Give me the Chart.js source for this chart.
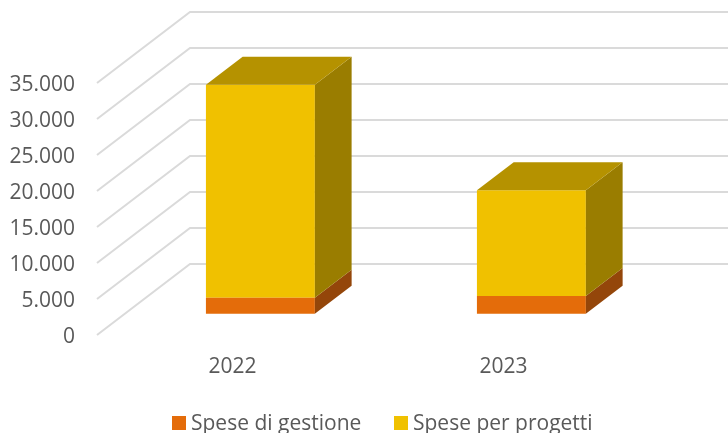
<!DOCTYPE html>
<html>
<head>
<meta charset="utf-8">
<style>
  html, body { margin: 0; padding: 0; background: #fff; }
  canvas { display: block; }
</style>
<script src="https://cdn.jsdelivr.net/npm/chart.js@4"></script>
</head>
<body>
<canvas id="speseChart" width="728" height="433"></canvas>
<script>
const years = ['2022', '2023'];
const speseGestione = [2200, 2450];
const speseProgetti = [29600, 14700];

const FONT = '"Open Sans", sans-serif';
const TEXT_COLOR = '#595959';

// floor depth of the 3D box, and where the bars sit inside it
const DEPTH_X = 93, DEPTH_Y = -71;
const BAR_NEAR = 0.3, BAR_FAR = 0.695;

const fmtThousands = v => String(v).replace(/\B(?=(\d{3})+$)/g, '.');

const depthGrid = {
    id: 'depthGrid',
    beforeDatasetsDraw(chart) {
        const { ctx, chartArea, scales: { y } } = chart;
        ctx.save();
        ctx.strokeStyle = '#dadada';
        ctx.lineWidth = 2;
        y.ticks.forEach(t => {
            const py = y.getPixelForValue(t.value);
            ctx.beginPath();
            ctx.moveTo(chartArea.left, py);
            ctx.lineTo(chartArea.left + DEPTH_X, py + DEPTH_Y);
            ctx.lineTo(chartArea.right + DEPTH_X, py + DEPTH_Y);
            ctx.stroke();
        });
        ctx.restore();
    }
};

// pushes the library's bars back into the box and adds the side and top faces
const bars3d = {
    id: 'bars3d',
    beforeDatasetsDraw(chart) {
        chart.ctx.save();
        chart.ctx.translate(DEPTH_X * BAR_NEAR, DEPTH_Y * BAR_NEAR);
    },
    afterDatasetsDraw(chart) {
        const ctx = chart.ctx;
        const dx = DEPTH_X * (BAR_FAR - BAR_NEAR), dy = DEPTH_Y * (BAR_FAR - BAR_NEAR);
        const last = chart.data.datasets.length - 1;
        chart.data.datasets.forEach((ds, i) => {
            chart.getDatasetMeta(i).data.forEach(bar => {
                const l = bar.x - bar.width / 2, r = bar.x + bar.width / 2;
                ctx.fillStyle = ds.sideColor;
                ctx.beginPath();
                ctx.moveTo(r, bar.y);
                ctx.lineTo(r + dx, bar.y + dy);
                ctx.lineTo(r + dx, bar.base + dy);
                ctx.lineTo(r, bar.base);
                ctx.closePath();
                ctx.fill();
                if (i === last) {
                    ctx.fillStyle = ds.topColor;
                    ctx.beginPath();
                    ctx.moveTo(l, bar.y);
                    ctx.lineTo(l + dx, bar.y + dy);
                    ctx.lineTo(r + dx, bar.y + dy);
                    ctx.lineTo(r, bar.y);
                    ctx.closePath();
                    ctx.fill();
                }
            });
        });
        ctx.restore();
    }
};

// Open Sans sits high on the middle baseline, nudge the value labels down
const nudgeTicks = {
    id: 'nudgeTicks',
    afterLayout(chart) {
        chart.scales.y.getLabelItems().forEach(item => {
            const [tx, ty] = item.options.translation;
            item.options.translation = [tx, ty + 2.5];
        });
    }
};

// legend row, the swatch sits closer to the text than the built-in legend allows
const legendRow = {
    id: 'legendRow',
    afterDraw(chart) {
        const ctx = chart.ctx;
        const xs = [172, 394];
        ctx.save();
        ctx.font = '21px ' + FONT;
        ctx.textBaseline = 'alphabetic';
        chart.data.datasets.forEach((ds, i) => {
            ctx.fillStyle = ds.backgroundColor;
            ctx.fillRect(xs[i], 416, 14, 14);
            ctx.fillStyle = TEXT_COLOR;
            ctx.fillText(ds.label, xs[i] + 19, 429.5);
        });
        ctx.restore();
    }
};

new Chart(document.getElementById('speseChart'), {
    type: 'bar',
    data: {
        labels: years,
        datasets: [
            {
                label: 'Spese di gestione',
                data: speseGestione,
                backgroundColor: '#e46c0a',
                sideColor: '#94460a'
            },
            {
                label: 'Spese per progetti',
                data: speseProgetti,
                backgroundColor: '#f0c100',
                sideColor: '#9a7d00',
                topColor: '#b59200'
            }
        ]
    },
    options: {
        responsive: false,
        animation: false,
        layout: { padding: { top: 83, right: 89 } },
        datasets: { bar: { barPercentage: 1, categoryPercentage: 0.402, clip: false } },
        plugins: { legend: { display: false }, tooltip: { enabled: false } },
        scales: {
            x: {
                stacked: true,
                grid: { display: false },
                border: { display: false },
                afterFit: s => { s.height = 98; },
                ticks: {
                    color: TEXT_COLOR,
                    font: { family: FONT, size: 21 },
                    padding: 11,
                    maxRotation: 0
                }
            },
            y: {
                stacked: true,
                min: 0,
                max: 35000,
                grid: { display: false },
                border: { display: false },
                afterFit: s => { s.width = 97; },
                ticks: {
                    stepSize: 5000,
                    color: TEXT_COLOR,
                    font: { family: FONT, size: 21 },
                    padding: 14,
                    callback: fmtThousands
                }
            }
        }
    },
    plugins: [depthGrid, bars3d, nudgeTicks, legendRow]
});
</script>
</body>
</html>
